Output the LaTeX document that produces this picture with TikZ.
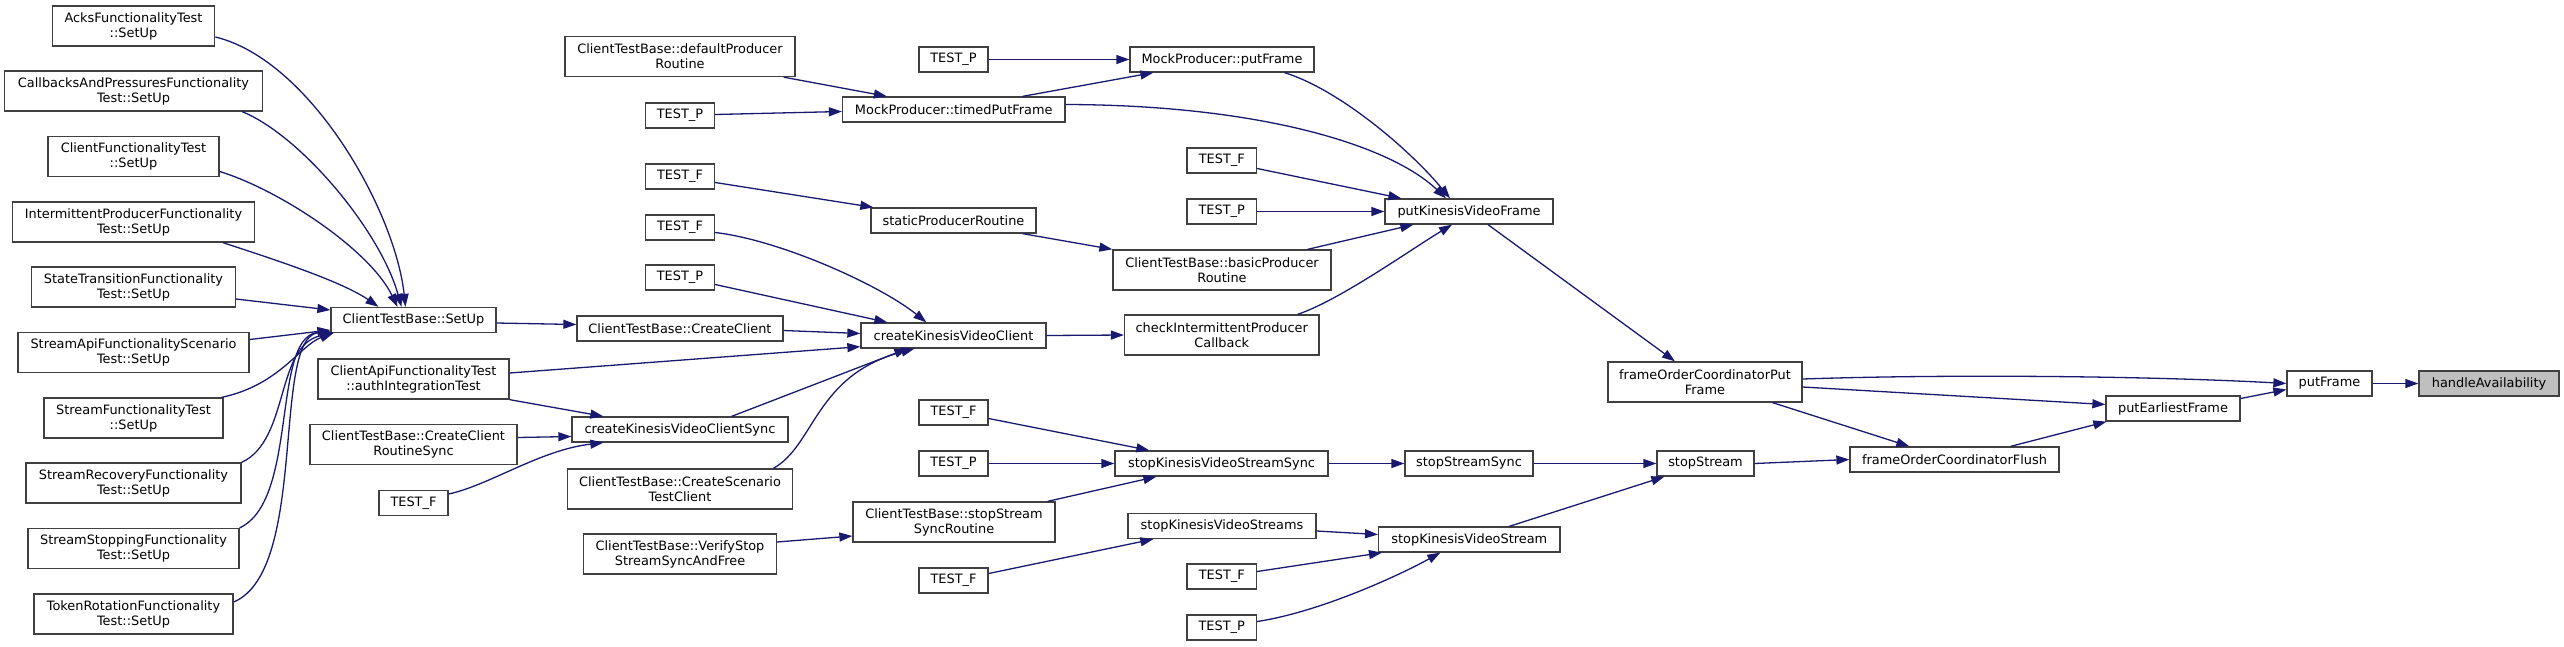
\documentclass[tikz,border=0pt]{standalone}
\usepackage{fontspec}
\usetikzlibrary{arrows.meta}
\newfontfamily\dejavu{DejaVu Sans}
\definecolor{callblue}{HTML}{191970}
\definecolor{fnline}{HTML}{404040}
\definecolor{fncur}{HTML}{BFBFBF}
\tikzset{
  fn/.style={draw=fnline, line width=1.3pt, fill=white, align=center, inner sep=0pt,
    minimum height=25pt, font={\dejavu\fontsize{12.9pt}{15pt}\selectfont}},
  fn2/.style={fn, minimum height=40pt},
  call/.style={draw=callblue, line width=1.3pt, -{Triangle[length=13pt,width=9pt]}},
}
\begin{document}
\begin{tikzpicture}[x=1pt, y=-1pt]
    \useasboundingbox (0,0) rectangle (2564,646);
    % SetUp callers
    \node[fn2, minimum width=162.5pt] (acks) at (133.5,26) {AcksFunctionalityTest\\::SetUp};
    \node[fn2, minimum width=258pt] (cbk) at (133.5,91) {CallbacksAndPressuresFunctionality\\Test::SetUp};
    \node[fn2, minimum width=171pt] (cft) at (133.5,156.5) {ClientFunctionalityTest\\::SetUp};
    \node[fn2, minimum width=242pt] (ipf) at (133.5,222) {IntermittentProducerFunctionality\\Test::SetUp};
    \node[fn2, minimum width=203.5pt] (stf) at (133.5,287) {StateTransitionFunctionality\\Test::SetUp};
    \node[fn2, minimum width=231pt] (saf) at (133.5,352.5) {StreamApiFunctionalityScenario\\Test::SetUp};
    \node[fn2, minimum width=179pt] (sft) at (133.5,418) {StreamFunctionalityTest\\::SetUp};
    \node[fn2, minimum width=215pt] (srf) at (133.5,483) {StreamRecoveryFunctionality\\Test::SetUp};
    \node[fn2, minimum width=211pt] (ssf) at (133.5,548.5) {StreamStoppingFunctionality\\Test::SetUp};
    \node[fn2, minimum width=199pt] (trf) at (133.5,614) {TokenRotationFunctionality\\Test::SetUp};
    % second column
    \node[fn, minimum width=165pt] (setup) at (413.5,320) {ClientTestBase::SetUp};
    \node[fn2, minimum width=191pt] (auth) at (413.5,379) {ClientApiFunctionalityTest\\::authIntegrationTest};
    \node[fn2, minimum width=207pt] (crs) at (413.5,444.5) {ClientTestBase::CreateClient\\RoutineSync};
    \node[fn, minimum width=69pt] (tfA) at (413.5,503) {TEST\_F};
    % third column
    \node[fn2, minimum width=230pt] (dpr) at (680,56.5) {ClientTestBase::defaultProducer\\Routine};
    \node[fn, minimum width=69pt] (tpA) at (680,115.5) {TEST\_P};
    \node[fn, minimum width=69pt] (tfB) at (680,176.5) {TEST\_F};
    \node[fn, minimum width=69pt] (tfC) at (680,227.5) {TEST\_F};
    \node[fn, minimum width=69pt] (tpB) at (680,277.5) {TEST\_P};
    \node[fn, minimum width=206pt] (cclient) at (680,328.5) {ClientTestBase::CreateClient};
    \node[fn, minimum width=216pt] (sync) at (680,429.5) {createKinesisVideoClientSync};
    \node[fn2, minimum width=225.5pt] (cstc) at (680,489) {ClientTestBase::CreateScenario\\TestClient};
    \node[fn2, minimum width=192.5pt] (vss) at (680,554) {ClientTestBase::VerifyStop\\StreamSyncAndFree};
    % fourth column
    \node[fn, minimum width=69pt] (tpC) at (953.5,59.5) {TEST\_P};
    \node[fn, minimum width=222.5pt] (tpf) at (953.75,109.5) {MockProducer::timedPutFrame};
    \node[fn, minimum width=165pt] (spr) at (953.5,220.5) {staticProducerRoutine};
    \node[fn, minimum width=185pt] (ckvc) at (953.5,335.5) {createKinesisVideoClient};
    \node[fn, minimum width=69pt] (tfD) at (953.5,412.5) {TEST\_F};
    \node[fn, minimum width=69pt] (tpD) at (953.5,463.5) {TEST\_P};
    \node[fn2, minimum width=202pt] (ssr) at (954,522) {ClientTestBase::stopStream\\SyncRoutine};
    \node[fn, minimum width=69pt] (tfE) at (953.5,580.5) {TEST\_F};
    % fifth column
    \node[fn, minimum width=184pt] (mpf) at (1222,59.5) {MockProducer::putFrame};
    \node[fn, minimum width=69.5pt] (tfF) at (1221.75,160.5) {TEST\_F};
    \node[fn, minimum width=69.5pt] (tpE) at (1221.75,211.5) {TEST\_P};
    \node[fn2, minimum width=218pt] (bpr) at (1222,270) {ClientTestBase::basicProducer\\Routine};
    \node[fn2, minimum width=194.5pt] (cipc) at (1221.75,335) {checkIntermittentProducer\\Callback};
    \node[fn, minimum width=213pt] (skvss) at (1221.5,463.5) {stopKinesisVideoStreamSync};
    \node[fn, minimum width=188pt] (skvsm) at (1222,526) {stopKinesisVideoStreams};
    \node[fn, minimum width=69.5pt] (tfG) at (1221.75,576.5) {TEST\_F};
    \node[fn, minimum width=69.5pt] (tpF) at (1221.75,627.5) {TEST\_P};
    % right part
    \node[fn, minimum width=168pt] (pkvf) at (1469,211.5) {putKinesisVideoFrame};
    \node[fn, minimum width=128pt] (sss) at (1469,463.5) {stopStreamSync};
    \node[fn, minimum width=181.4pt] (skvs) at (1469.3,539.5) {stopKinesisVideoStream};
    \node[fn2, minimum width=194pt] (fopf) at (1705,382) {frameOrderCoordinatorPut\\Frame};
    \node[fn, minimum width=97pt] (sstream) at (1705.5,463.5) {stopStream};
    \node[fn, minimum width=209pt] (flush) at (1954.5,459.5) {frameOrderCoordinatorFlush};
    \node[fn, minimum width=134pt] (pef) at (2173,408.5) {putEarliestFrame};
    \node[fn, minimum width=85pt] (pframe) at (2329.5,383.5) {putFrame};
    \node[fn, fill=fncur, minimum width=140pt] (handle) at (2489,383.5) {handleAvailability};
    % Calls into SetUp
    \draw[call] ([yshift=-11pt]acks.east) .. controls (310,60) and (395,210) .. ([xshift=-8pt]setup.north);
    \draw[call] ([xshift=-21pt]cbk.south east) .. controls (300,135) and (380,230) .. ([xshift=-12pt]setup.north);
    \draw[call] ([yshift=-15pt]cft.east) .. controls (280,190) and (370,250) .. ([xshift=-16pt]setup.north);
    \draw[call] ([xshift=-32pt]ipf.south east) .. controls (260,255) and (340,280) .. ([xshift=-35pt]setup.north);
    \draw[call] ([yshift=-12pt]stf.east) -- ([yshift=10pt]setup.west);
    \draw[call] ([yshift=13pt]saf.east) -- ([yshift=-10pt]setup.west);
    \draw[call] ([xshift=-2pt]sft.north east) .. controls (280,385) and (300,345) .. ([xshift=3pt]setup.south west);
    \draw[call] (srf.north east) .. controls (290,440) and (275,345) .. ([xshift=3pt]setup.south west);
    \draw[call] (ssf.north east) .. controls (300,500) and (270,330) .. ([xshift=3pt]setup.south west);
    \draw[call] ([yshift=12pt]trf.east) .. controls (310,570) and (270,330) .. ([xshift=3pt]setup.south west);
    % Client creation
    \draw[call] ([yshift=-3pt]setup.east) -- ([yshift=4pt]cclient.west);
    \draw[call] ([yshift=-2pt]cclient.east) -- ([yshift=2pt]ckvc.west);
    \draw[call] ([yshift=6pt]auth.east) -- ([yshift=2pt]ckvc.south west);
    \draw[call] (auth.south east) -- ([xshift=32pt]sync.north west);
    \draw[call] ([yshift=7pt]crs.east) -- ([yshift=-7pt]sync.west);
    \draw[call] ([yshift=9pt]tfA.east) .. controls (490,485) and (540,450) .. ([xshift=32pt]sync.south west);
    \draw[call] ([xshift=-57pt]sync.north east) -- ([xshift=47pt]ckvc.south west);
    \draw[call] ([xshift=-20pt]cstc.north east) .. controls (815,445) and (815,375) .. ([xshift=54pt]ckvc.south west);
    \draw[call] ([yshift=-5pt]tfC.east) .. controls (780,240) and (880,285) .. ([xshift=66pt]ckvc.north west);
    \draw[call] ([yshift=-7pt]tpB.east) -- ([xshift=27pt]ckvc.north west);
    \draw[call] (ckvc.east) -- (cipc.west);
    % Producers
    \draw[call] ([xshift=-12pt]dpr.south east) -- ([xshift=45pt]tpf.north west);
    \draw[call] ([yshift=1pt]tpA.east) -- ([yshift=-2pt]tpf.west);
    \draw[call] (tpC.east) -- (mpf.west);
    \draw[call] ([xshift=-43pt]tpf.north east) -- ([xshift=24pt]mpf.south west);
    \draw[call] ([yshift=-6pt]tfB.east) -- ([xshift=3pt]spr.north west);
    \draw[call] ([xshift=-14pt]spr.south east) -- (bpr.north west);
    \draw[call] ([xshift=-30pt]mpf.south east) .. controls (1340,90) and (1410,150) .. ([xshift=-19pt]pkvf.north);
    \draw[call] ([yshift=5pt]tpf.east) .. controls (1260,105) and (1390,145) .. ([xshift=-23pt]pkvf.north);
    \draw[call] ([yshift=-8pt]tfF.east) -- ([xshift=17pt]pkvf.north west);
    \draw[call] (tpE.east) -- (pkvf.west);
    \draw[call] ([xshift=-24pt]bpr.north east) -- ([xshift=29pt]pkvf.south west);
    \draw[call] ([xshift=-22pt]cipc.north east) .. controls (1340,300) and (1410,250) .. ([xshift=-17pt]pkvf.south);
    % Stopping
    \draw[call] ([yshift=-6pt]tfD.east) -- ([xshift=35pt]skvss.north west);
    \draw[call] (tpD.east) -- (skvss.west);
    \draw[call] ([xshift=-8pt]ssr.north east) -- ([xshift=42pt]skvss.south west);
    \draw[call] ([yshift=12pt]vss.east) -- ([yshift=-14pt]ssr.west);
    \draw[call] ([yshift=7pt]tfE.east) -- ([xshift=26pt]skvsm.south west);
    \draw[call] ([yshift=-5pt]skvsm.east) -- ([yshift=5pt]skvs.west);
    \draw[call] ([yshift=5pt]tfG.east) -- ([xshift=4pt]skvs.south west);
    \draw[call] ([yshift=6pt]tpF.east) .. controls (1320,612) and (1400,575) .. ([xshift=-29pt]skvs.south);
    \draw[call] (skvss.east) -- (sss.west);
    \draw[call] (sss.east) -- (sstream.west);
    \draw[call] ([xshift=40pt]skvs.north) -- ([xshift=8pt]sstream.south west);
    % Frame order
    \draw[call] ([xshift=19pt]pkvf.south) -- ([xshift=-30pt]fopf.north);
    \draw[call] ([yshift=3pt]fopf.east) .. controls (1950,374) and (2150,376) .. (pframe.west);
    \draw[call] ([yshift=-5pt]fopf.east) -- ([yshift=4pt]pef.west);
    \draw[call] ([xshift=-30pt]fopf.south east) -- ([xshift=60pt]flush.north west);
    \draw[call] (sstream.east) -- (flush.west);
    \draw[call] ([xshift=-49pt]flush.north east) -- ([xshift=1pt]pef.south west);
    \draw[call] ([yshift=10pt]pef.east) -- ([yshift=-6pt]pframe.west);
    \draw[call] (pframe.east) -- (handle.west);
\end{tikzpicture}
\end{document}
